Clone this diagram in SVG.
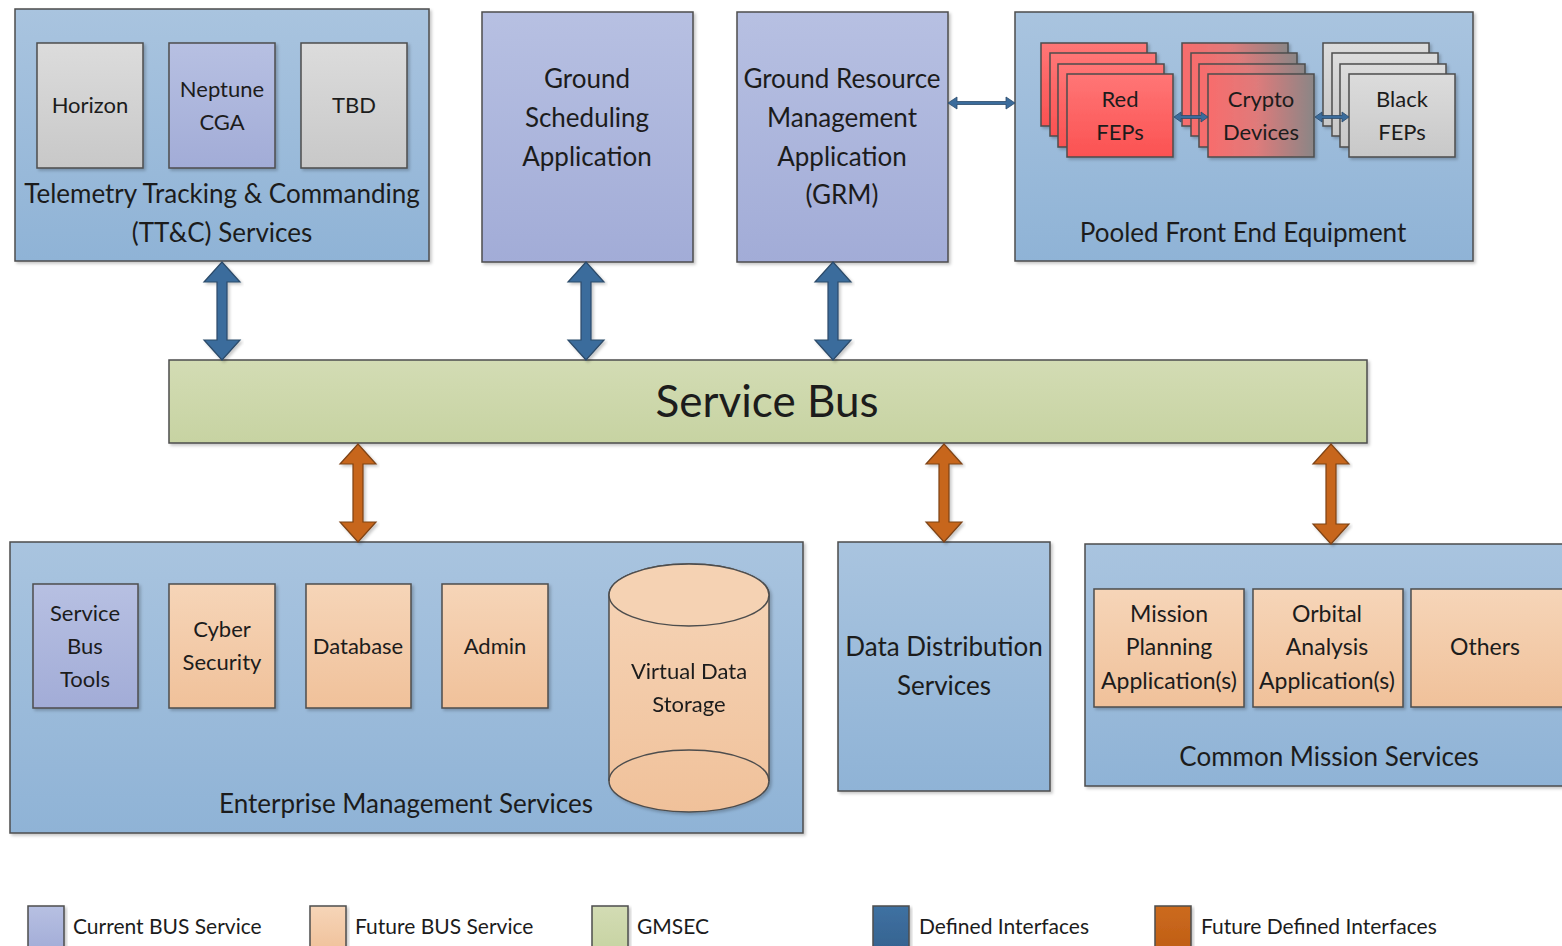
<svg xmlns="http://www.w3.org/2000/svg" width="1562" height="946" viewBox="0 0 1562 946">
  <style>
    text { font-family: Lato, "Open Sans", "Liberation Sans", sans-serif; fill: #1c1c1c; text-anchor: middle; }
    .box { stroke: #4d4d4d; stroke-width: 1.5; filter: url(#shadow); }
    .cont { fill: url(#gBlue); }
    .cur { fill: url(#gPurple); }
    .fut { fill: url(#gOrange); }
    .gray { fill: url(#gGray); }
    .red { fill: url(#gRed); }
    .crypto { fill: url(#gCrypto); }
    .bus { fill: url(#gGreen); }
    .t26 { font-size: 26px; }
    .t22 { font-size: 22px; }
    .t23 { font-size: 23px; }
    .leg { font-size: 21px; text-anchor: start; }
    .arrB { fill: #3b6c9c; stroke: #2b4a69; stroke-width: 1.2; filter: url(#shadow); }
    .arrO { fill: #c7661b; stroke: #7d4214; stroke-width: 1.2; filter: url(#shadow); }
    .thin { fill: #3b6c9c; stroke: #2b4a69; stroke-width: 0.8; }
  </style>
  <defs>
    <linearGradient id="gBlue" x1="0" y1="0" x2="0" y2="1">
      <stop offset="0" stop-color="#a9c4df"/>
      <stop offset="1" stop-color="#8fb3d6"/>
    </linearGradient>
    <linearGradient id="gPurple" x1="0" y1="0" x2="0" y2="1">
      <stop offset="0" stop-color="#b7c0e2"/>
      <stop offset="1" stop-color="#a2acd7"/>
    </linearGradient>
    <linearGradient id="gOrange" x1="0" y1="0" x2="0" y2="1">
      <stop offset="0" stop-color="#f6d5b8"/>
      <stop offset="1" stop-color="#f0c19a"/>
    </linearGradient>
    <linearGradient id="gGray" x1="0" y1="0" x2="0" y2="1">
      <stop offset="0" stop-color="#dcdcdc"/>
      <stop offset="1" stop-color="#c8c8c8"/>
    </linearGradient>
    <linearGradient id="gRed" x1="0" y1="0" x2="0" y2="1">
      <stop offset="0" stop-color="#ff7676"/>
      <stop offset="1" stop-color="#fb5252"/>
    </linearGradient>
    <linearGradient id="gCrypto" x1="0" y1="0" x2="1" y2="0">
      <stop offset="0" stop-color="#f86c6c"/>
      <stop offset="0.45" stop-color="#e07a7a"/>
      <stop offset="1" stop-color="#8a8686"/>
    </linearGradient>
    <linearGradient id="gGreen" x1="0" y1="0" x2="0" y2="1">
      <stop offset="0" stop-color="#d3dcb4"/>
      <stop offset="1" stop-color="#c7d3a2"/>
    </linearGradient>
    <linearGradient id="gLegBlue" x1="0" y1="0" x2="0" y2="1">
      <stop offset="0" stop-color="#3f71a2"/>
      <stop offset="1" stop-color="#35628f"/>
    </linearGradient>
    <linearGradient id="gLegOrange" x1="0" y1="0" x2="0" y2="1">
      <stop offset="0" stop-color="#cc6a1e"/>
      <stop offset="1" stop-color="#bf5e15"/>
    </linearGradient>
    <filter id="shadow" x="-5%" y="-5%" width="115%" height="115%">
      <feDropShadow dx="2" dy="2" stdDeviation="1.5" flood-color="#000" flood-opacity="0.22"/>
    </filter>
  </defs>

  <rect width="1562" height="946" fill="#ffffff"/>

  <!-- Telemetry Tracking & Commanding services -->
  <g id="ttc">
    <rect class="box cont" x="15" y="9" width="414" height="252"/>
    <text class="t26" x="222" y="203">Telemetry Tracking &amp; Commanding</text>
    <text class="t26" x="222" y="242">(TT&amp;C) Services</text>
  </g>
  <g id="horizon">
    <rect class="box gray" x="37" y="43" width="106" height="125"/>
    <text class="t22" x="90" y="113">Horizon</text>
  </g>
  <g id="neptune">
    <rect class="box cur" x="169" y="43" width="106" height="125"/>
    <text class="t22" x="222" y="97">Neptune</text>
    <text class="t22" x="222" y="130">CGA</text>
  </g>
  <g id="tbd">
    <rect class="box gray" x="301" y="43" width="106" height="125"/>
    <text class="t22" x="354" y="113">TBD</text>
  </g>

  <!-- Ground Scheduling Application -->
  <g id="gsa">
    <rect class="box cur" x="482" y="12" width="211" height="250"/>
    <text class="t26" x="587" y="88">Ground</text>
    <text class="t26" x="587" y="127">Scheduling</text>
    <text class="t26" x="587" y="166">Application</text>
  </g>

  <!-- Ground Resource Management Application -->
  <g id="grm">
    <rect class="box cur" x="737" y="12" width="211" height="250"/>
    <text class="t26" x="842" y="88">Ground Resource</text>
    <text class="t26" x="842" y="127">Management</text>
    <text class="t26" x="842" y="166">Application</text>
    <text class="t26" x="842" y="204">(GRM)</text>
  </g>

  <!-- Pooled Front End Equipment -->
  <g id="pfe">
    <rect class="box cont" x="1015" y="12" width="458" height="249"/>
    <text class="t26" x="1243" y="242">Pooled Front End Equipment</text>
  </g>
  <g id="red-feps">
    <rect class="box red" x="1041" y="43" width="106" height="83"/>
    <rect class="box red" x="1050" y="53" width="106" height="83"/>
    <rect class="box red" x="1058" y="64" width="106" height="83"/>
    <rect class="box red" x="1067" y="74" width="106" height="83"/>
    <text class="t22" x="1120" y="107">Red</text>
    <text class="t22" x="1120" y="140">FEPs</text>
  </g>
  <g id="crypto">
    <rect class="box crypto" x="1182" y="43" width="106" height="83"/>
    <rect class="box crypto" x="1191" y="53" width="106" height="83"/>
    <rect class="box crypto" x="1199" y="64" width="106" height="83"/>
    <rect class="box crypto" x="1208" y="74" width="106" height="83"/>
    <text class="t22" x="1261" y="107">Crypto</text>
    <text class="t22" x="1261" y="140">Devices</text>
  </g>
  <g id="black-feps">
    <rect class="box gray" x="1323" y="43" width="106" height="83"/>
    <rect class="box gray" x="1332" y="53" width="106" height="83"/>
    <rect class="box gray" x="1340" y="64" width="106" height="83"/>
    <rect class="box gray" x="1349" y="74" width="106" height="83"/>
    <text class="t22" x="1402" y="107">Black</text>
    <text class="t22" x="1402" y="140">FEPs</text>
  </g>

  <!-- Service Bus -->
  <g id="service-bus">
    <rect class="box bus" x="169" y="360" width="1198" height="83"/>
    <text x="767" y="417" style="font-size:44px">Service Bus</text>
  </g>

  <!-- Enterprise Management Services -->
  <g id="ems">
    <rect class="box cont" x="10" y="542" width="793" height="291"/>
    <text class="t26" x="406" y="813">Enterprise Management Services</text>
  </g>
  <g id="sbt">
    <rect class="box cur" x="33" y="584" width="105" height="124"/>
    <text class="t22" x="85" y="621">Service</text>
    <text class="t22" x="85" y="654">Bus</text>
    <text class="t22" x="85" y="687">Tools</text>
  </g>
  <g id="cyber">
    <rect class="box fut" x="169" y="584" width="106" height="124"/>
    <text class="t22" x="222" y="637">Cyber</text>
    <text class="t22" x="222" y="670">Security</text>
  </g>
  <g id="database">
    <rect class="box fut" x="306" y="584" width="105" height="124"/>
    <text class="t22" x="358" y="654">Database</text>
  </g>
  <g id="admin">
    <rect class="box fut" x="442" y="584" width="106" height="124"/>
    <text class="t22" x="495" y="654">Admin</text>
  </g>
  <g id="vds" filter="url(#shadow)">
    <path d="M609,595 A80,31 0 0 1 769,595 L769,781 A80,31 0 0 1 609,781 Z" fill="url(#gOrange)" stroke="#4d4d4d" stroke-width="1.5"/>
    <ellipse cx="689" cy="595" rx="80" ry="31" fill="#f5d2b3" stroke="#4d4d4d" stroke-width="1.5"/>
    <path d="M609,781 A80,31 0 0 1 769,781" fill="none" stroke="#4d4d4d" stroke-width="1.5"/>
    <text class="t22" x="689" y="679">Virtual Data</text>
    <text class="t22" x="689" y="712">Storage</text>
  </g>

  <!-- Data Distribution Services -->
  <g id="dds">
    <rect class="box cont" x="838" y="542" width="212" height="249"/>
    <text class="t26" x="944" y="656">Data Distribution</text>
    <text class="t26" x="944" y="695">Services</text>
  </g>

  <!-- Common Mission Services -->
  <g id="cms">
    <rect class="box cont" x="1085" y="544" width="490" height="242"/>
    <text class="t26" x="1329" y="766">Common Mission Services</text>
  </g>
  <g id="mpa">
    <rect class="box fut" x="1094" y="589" width="150" height="118"/>
    <text class="t23" x="1169" y="622">Mission</text>
    <text class="t23" x="1169" y="655">Planning</text>
    <text class="t23" x="1169" y="689">Application(s)</text>
  </g>
  <g id="oaa">
    <rect class="box fut" x="1253" y="589" width="150" height="118"/>
    <text class="t23" x="1327" y="622">Orbital</text>
    <text class="t23" x="1327" y="655">Analysis</text>
    <text class="t23" x="1327" y="689">Application(s)</text>
  </g>
  <g id="others">
    <rect class="box fut" x="1411" y="589" width="160" height="118"/>
    <text class="t23" x="1485" y="655">Others</text>
  </g>

  <!-- Interfaces -->
  <g id="connectors">
    <!-- defined interfaces: upper services to the bus -->
    <polygon class="arrB" points="222,262 240,282 227,282 227,340 240,340 222,360 204,340 217,340 217,282 204,282"/>
    <polygon class="arrB" points="586,262 604,282 591,282 591,340 604,340 586,360 568,340 581,340 581,282 568,282"/>
    <polygon class="arrB" points="833,262 851,282 838,282 838,340 851,340 833,360 815,340 828,340 828,282 815,282"/>
    <!-- future defined interfaces: bus to lower services -->
    <polygon class="arrO" points="358,444 376,464 363,464 363,522 376,522 358,542 340,522 353,522 353,464 340,464"/>
    <polygon class="arrO" points="944,444 962,464 949,464 949,522 962,522 944,542 926,522 939,522 939,464 926,464"/>
    <polygon class="arrO" points="1331,444 1349,464 1336,464 1336,524 1349,524 1331,544 1313,524 1326,524 1326,464 1313,464"/>
    <!-- GRM to front end equipment -->
    <polygon class="thin" points="948,103 957,97 957,101.5 1006,101.5 1006,97 1015,103 1006,109 1006,104.5 957,104.5 957,109"/>
    <!-- links inside the front end chain -->
    <polygon class="thin" points="1174,117 1181,112 1181,115.5 1201,115.5 1201,112 1208,117 1201,122 1201,118.5 1181,118.5 1181,122"/>
    <polygon class="thin" points="1315,117 1322,112 1322,115.5 1342,115.5 1342,112 1349,117 1342,122 1342,118.5 1322,118.5 1322,122"/>
  </g>

  <!-- Legend -->
  <g id="legend">
    <rect class="box cur" x="28" y="906" width="36" height="46"/>
    <text class="leg" x="73" y="934">Current BUS Service</text>
    <rect class="box fut" x="310" y="906" width="36" height="46"/>
    <text class="leg" x="355" y="934">Future BUS Service</text>
    <rect class="box bus" x="592" y="906" width="36" height="46"/>
    <text class="leg" x="637" y="934">GMSEC</text>
    <rect class="box" fill="url(#gLegBlue)" x="873" y="906" width="36" height="46"/>
    <text class="leg" x="919" y="934">Defined Interfaces</text>
    <rect class="box" fill="url(#gLegOrange)" x="1155" y="906" width="36" height="46"/>
    <text class="leg" x="1201" y="934">Future Defined Interfaces</text>
  </g>
</svg>
